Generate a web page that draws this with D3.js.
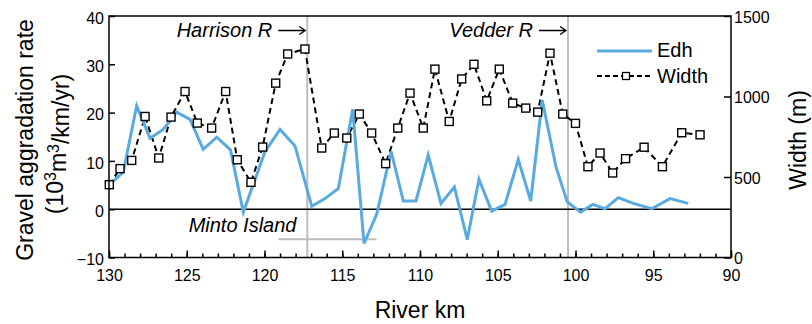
<!DOCTYPE html>
<html>
<head>
<meta charset="utf-8">
<script src="https://cdnjs.cloudflare.com/ajax/libs/d3/7.8.5/d3.min.js"></script>
<style>
  body { margin: 0; background: #fff; }
  svg text { font-family: Helvetica, Arial, "Liberation Sans", sans-serif; fill: #000; }
</style>
</head>
<body>
<div id="chart"></div>
<script>
// data (river km, value)
const edhKm = [130.0, 129.08, 128.22, 127.36, 126.51, 125.65, 124.79, 123.94, 123.07, 122.19,
  121.36, 119.97, 119.0, 118.04, 116.96, 116.11, 115.25, 114.33, 113.6, 112.78,
  111.86, 111.07, 110.26, 109.47, 108.65, 107.79, 106.96, 106.21, 105.39, 104.53,
  103.68, 102.88, 102.14, 101.25, 100.53, 99.67, 98.89, 98.1, 97.25, 96.28,
  95.1, 93.92, 92.75];
const edhVal = [5.0, 7.7, 21.4, 14.7, 16.5, 20.1, 18.6, 12.4, 14.9, 12.3,
  -0.6, 11.9, 16.5, 13.1, 0.6, 2.2, 4.3, 20.7, -7.1, -1.0,
  12.0, 1.7, 1.7, 11.2, 1.2, 4.6, -6.3, 6.2, -0.4, 1.0,
  10.3, 1.7, 22.6, 8.7, 1.5, -0.6, 1.0, 0.1, 2.4, 1.2,
  0.1, 2.2, 1.2];

const widthKm = [129.98, 129.29, 128.54, 127.68, 126.8, 126.01, 125.11, 124.32, 123.4, 122.5,
  121.75, 120.87, 120.12, 119.28, 118.51, 117.4, 116.32, 115.51, 114.71, 113.9,
  113.11, 112.21, 111.43, 110.64, 109.79, 109.04, 108.12, 107.32, 106.53, 105.71,
  104.9, 104.04, 103.2, 102.43, 101.64, 100.82, 100.0, 99.2, 98.42, 97.61,
  96.78, 95.59, 94.41, 93.17, 91.99];
const widthVal = [452, 552, 603, 876, 618, 872, 1031, 835, 804, 1031,
  607, 467, 686, 1083, 1264, 1295, 680, 773, 742, 891,
  773, 583, 804, 1021, 804, 1170, 845, 1109, 1200, 973,
  1170, 959, 928, 903, 1269, 891, 833, 564, 649, 525,
  614, 685, 564, 775, 762];

const leftTicks = [-10, 0, 10, 20, 30, 40];
const rightTicks = [0, 500, 1000, 1500];
const xMajor = [130, 125, 120, 115, 110, 105, 100, 95, 90];

const harrisonKm = 117.25, vedderKm = 100.48;
const mintoKm = [119.1, 112.8], mintoY = -6.2;

const W = 812, H = 324;
const margin = { top: 16, right: 81, bottom: 66.5, left: 109 };
const width = W - margin.left - margin.right;
const height = H - margin.top - margin.bottom;

const svg = d3.select("#chart").append("svg")
  .attr("width", W).attr("height", H);
const g = svg.append("g")
  .attr("transform", `translate(${margin.left},${margin.top})`);

const x = d3.scaleLinear().domain([130, 90]).range([0, width]);
const yL = d3.scaleLinear().domain([-10, 40]).range([height, 0]);
const yR = d3.scaleLinear().domain([0, 1500]).range([height, 0]);

const blue = "#58aadf";
const grey = "#bdbdbd";

// vertical river markers and minto island bar
g.selectAll(".marker")
  .data([harrisonKm, vedderKm])
  .enter().append("line")
  .attr("x1", d => x(d)).attr("x2", d => x(d))
  .attr("y1", 0).attr("y2", height)
  .attr("stroke", grey).attr("stroke-width", 2);

g.append("line")
  .attr("x1", x(mintoKm[0])).attr("x2", x(mintoKm[1]))
  .attr("y1", yL(mintoY)).attr("y2", yL(mintoY))
  .attr("stroke", grey).attr("stroke-width", 2);

// zero line
g.append("line")
  .attr("x1", 0).attr("x2", width)
  .attr("y1", yL(0)).attr("y2", yL(0))
  .attr("stroke", "#000").attr("stroke-width", 1.5);

// width series (dashed with squares)
const widthData = widthKm.map((k, i) => ({ k: k, v: widthVal[i] }));
g.append("path")
  .datum(widthData)
  .attr("fill", "none")
  .attr("stroke", "#000")
  .attr("stroke-width", 2)
  .attr("stroke-dasharray", "6,4")
  .attr("d", d3.line().x(d => x(d.k)).y(d => yR(d.v)));

// edh series
const edhData = edhKm.map((k, i) => ({ k: k, v: edhVal[i] }));
g.append("path")
  .datum(edhData)
  .attr("fill", "none")
  .attr("stroke", blue)
  .attr("stroke-width", 3)
  .attr("stroke-linejoin", "miter")
  .attr("d", d3.line().x(d => x(d.k)).y(d => yL(d.v)));

const sq = 8;
g.selectAll(".sq")
  .data(widthData)
  .enter().append("rect")
  .attr("x", d => x(d.k) - sq / 2)
  .attr("y", d => yR(d.v) - sq / 2)
  .attr("width", sq).attr("height", sq)
  .attr("fill", "#fff")
  .attr("stroke", "#000")
  .attr("stroke-width", 1.4);

// axes
const styleAxis = function(sel) {
  sel.select(".domain").remove();
  sel.selectAll(".tick line").attr("stroke", "#000").attr("stroke-width", 1.5);
  sel.selectAll(".tick text").style("font-size", "16px").attr("fill", "#000");
};

g.append("g")
  .attr("transform", `translate(0,${height})`)
  .call(d3.axisBottom(x).tickValues(d3.range(90, 131, 1)).tickSize(-4).tickFormat(""))
  .call(styleAxis);

g.append("g")
  .attr("transform", `translate(0,${height})`)
  .call(d3.axisBottom(x).tickValues(xMajor).tickSize(-7).tickPadding(12).tickFormat(d3.format("d")))
  .call(styleAxis);

g.append("g")
  .call(d3.axisLeft(yL).tickValues(leftTicks).tickSize(-6).tickPadding(5).tickFormat(d3.format("d")))
  .call(styleAxis)
  .selectAll(".tick text").attr("dy", "0.45em");

g.append("g")
  .attr("transform", `translate(${width},0)`)
  .call(d3.axisRight(yR).tickValues(rightTicks).tickSize(-7).tickPadding(3).tickFormat(d3.format("d")))
  .call(styleAxis)
  .selectAll(".tick text").attr("dy", "0.4em");

// frame
g.append("rect")
  .attr("width", width).attr("height", height)
  .attr("fill", "none").attr("stroke", "#000").attr("stroke-width", 1.5);

// annotations
function riverLabel(label, km) {
  const xe = x(km);
  g.append("text")
    .attr("x", xe - 35).attr("y", 21)
    .attr("text-anchor", "end")
    .style("font-size", "20px").style("font-style", "italic")
    .text(label);
  g.append("path")
    .attr("d", `M${xe - 29},14.5 H${xe - 2} M${xe - 8},10.5 L${xe - 2},14.5 L${xe - 8},18.5`)
    .attr("fill", "none").attr("stroke", "#000").attr("stroke-width", 1.3);
}
riverLabel("Harrison R", harrisonKm);
riverLabel("Vedder R", vedderKm);

g.append("text")
  .attr("x", x(mintoKm[0]) + 18).attr("y", yL(mintoY) - 7)
  .attr("text-anchor", "end")
  .style("font-size", "20px").style("font-style", "italic")
  .text("Minto Island");

// legend
const lg = g.append("g").attr("transform", `translate(${width - 134},0)`);
lg.append("line").attr("x1", 0).attr("x2", 55).attr("y1", 35).attr("y2", 35)
  .attr("stroke", blue).attr("stroke-width", 3);
lg.append("text").attr("x", 60).attr("y", 41).style("font-size", "20px").text("Edh");
lg.append("line").attr("x1", 0).attr("x2", 55).attr("y1", 60).attr("y2", 60)
  .attr("stroke", "#000").attr("stroke-width", 2).attr("stroke-dasharray", "5,3");
lg.append("rect").attr("x", 25.5).attr("y", 56.5).attr("width", 7).attr("height", 7)
  .attr("fill", "#fff").attr("stroke", "#000").attr("stroke-width", 1.3);
lg.append("text").attr("x", 60).attr("y", 67).style("font-size", "20px").text("Width");

// axis titles
svg.append("text")
  .attr("transform", `translate(${margin.left + width / 2},318)`)
  .attr("text-anchor", "middle")
  .style("font-size", "23px")
  .text("River km");

svg.append("text")
  .attr("transform", "translate(33,140) rotate(-90)")
  .attr("text-anchor", "middle")
  .style("font-size", "23px")
  .text("Gravel aggradation rate");

const t2 = svg.append("text")
  .attr("transform", "translate(63,144) rotate(-90)")
  .attr("text-anchor", "middle")
  .style("font-size", "23px");
t2.append("tspan").text("(10");
t2.append("tspan").attr("dy", "-0.45em").style("font-size", "16px").text("3");
t2.append("tspan").attr("dy", "0.45em").text("m");
t2.append("tspan").attr("dy", "-0.45em").style("font-size", "16px").text("3");
t2.append("tspan").attr("dy", "0.45em").text("/km/yr)");

svg.append("text")
  .attr("transform", "translate(806,140) rotate(-90)")
  .attr("text-anchor", "middle")
  .style("font-size", "23px")
  .text("Width (m)");
</script>
</body>
</html>
